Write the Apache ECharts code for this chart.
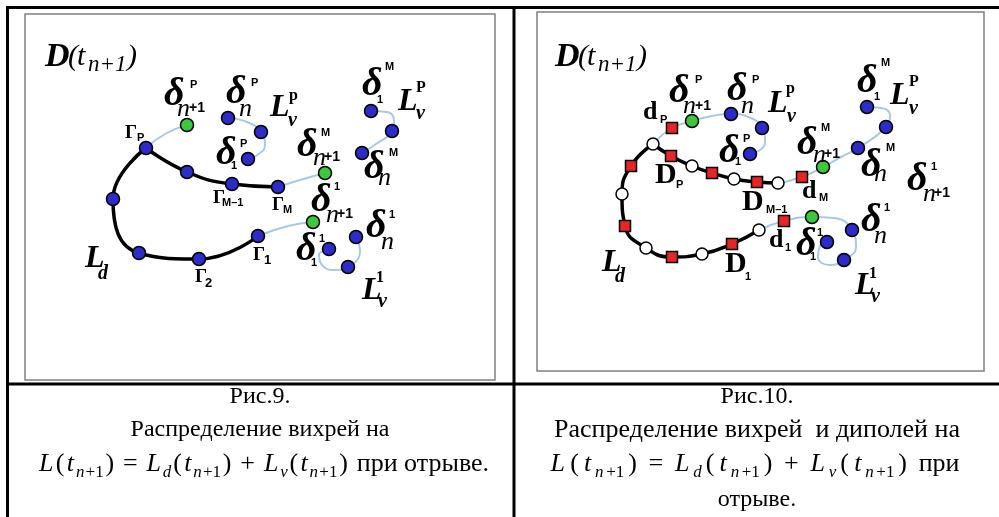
<!DOCTYPE html>
<html>
<head>
<meta charset="utf-8">
<script src="https://cdn.jsdelivr.net/npm/echarts@6/dist/echarts.min.js"></script>
<style>
  html, body { margin: 0; padding: 0; background: #fff; }
  #chart { width: 999px; height: 517px; }
</style>
</head>
<body>
<div id="chart"></div>
<script>
// ---- Рис.9: контур L_d и вихревые пелены L_v (координаты в пикселях картинки) ----
const ldUpper9 = [[146,148],[187,172],[232,184],[278,187]];
const ldLower9 = [[146,148],[113,199],[139,253],[199,259],[258,236]];
const lvLinks9 = [
  [[146,148],[165,134],[187,125]],
  [[278,187],[300,180],[325,173]],
  [[258,236],[288,226],[313,222]]
];
const lvLoops9 = [
  [[228,118],[247,122],[261,132],[265,145],[256,156],[248,159]],
  [[371,111],[387,112],[394,121],[392,131],[376,144],[362,153]],
  [[356,237],[360,251],[348,267],[334,270],[322,265],[319,255],[329,249]]
];
const blue9 = [[146,148],[187,172],[232,184],[278,187],[113,199],[139,253],[199,259],[258,236],
  [228,118],[261,132],[248,159],[371,111],[392,131],[362,153],[329,249],[348,267],[356,237]];
const green9 = [[187,125],[325,173],[313,222]];

// ---- Рис.10: вихри и диполи ----
const ldUpper10 = [[653,144],[671,156],[692,166],[712,173],[734,179],[757,182],[778,183]];
const ldLower10 = [[653,144],[631,166],[622,194],[625,226],[646,248],[672,257],[702,254],[732,244],[759,230]];
const lvLines10 = [
  [[653,144],[672,128],[692,121],[712,116],[731,114],[751,118],[762,128],[765,142],[757,152],[750,154]],
  [[778,183],[802,177],[823,167],[841,157],[858,148],[886,127],[890,115],[881,108],[867,107]],
  [[759,230],[784,221],[812,217],[834,218],[852,230],[856,247],[844,260],[830,265],[818,257],[820,246],[827,242]]
];
const white10 = [[653,144],[692,166],[734,179],[778,183],[622,194],[646,248],[702,254],[759,230]];
const red10 = [[672,128],[671,156],[712,173],[757,182],[802,177],[631,166],[625,226],[672,257],[732,244],[784,221]];
const green10 = [[692,121],[823,167],[812,217]];
const blue10 = [[731,114],[762,128],[750,154],[858,148],[886,127],[867,107],[852,230],[844,260],[827,242]];

// подписи: [x, y, текст, шрифт]
const labels9 = [
  [45,57,'D','D'],[68,57,'(','par'],[77,57,'t','par'],[88,65,'n+1','tsub'],[127,57,')','par'],
  [164,95,'δ','del'],[190,85,'P','sup'],[177,109,'n','nsub'],[189,108,'+1','pl'],
  [226,93,'δ','del'],[251,83,'P','sup'],[239,109,'n','nsub'],
  [270,108,'L','L'],[289,96,'p','lsup'],[288,121,'v','v'],
  [362,85,'δ','del'],[385,67,'M','sup'],[377,100,'1','sup'],
  [398,102,'L','L'],[416,88,'P','lsup'],[416,114,'v','v'],
  [125,133,'Γ','G'],[137,138,'P','gs'],
  [216,154,'δ','del'],[240,144,'P','sup'],[231,166,'1','sup'],
  [297,146,'δ','del'],[321,133,'M','sup'],[313,158,'n','nsub'],[324,157,'+1','pl'],
  [364,168,'δ','del'],[389,153,'M','sup'],[378,178,'n','nsub'],
  [213,198,'Γ','G'],[222,203,'M–1','gs'],
  [272,205,'Γ','G'],[283,210,'M','gs'],
  [311,201,'δ','del'],[334,187,'1','sup'],[326,215,'n','nsub'],[337,214,'+1','pl'],
  [366,227,'δ','del'],[389,215,'1','sup'],[381,242,'n','nsub'],
  [296,250,'δ','del'],[319,239,'1','sup'],[311,263,'1','sup'],
  [85,259,'L','L'],[98,274,'d','v'],
  [195,277,'Γ','G'],[205,283,'2','gs2'],
  [253,255,'Γ','G'],[264,260,'1','gs2'],
  [362,291,'L','L'],[376,278,'1','lsup'],[378,302,'v','v']
];
const labels10 = [
  [555,57,'D','D'],[578,57,'(','par'],[587,57,'t','par'],[598,65,'n+1','tsub'],[637,57,')','par'],
  [669,92,'δ','del'],[695,80,'P','sup'],[683,106,'n','nsub'],[695,106,'+1','pl'],
  [727,90,'δ','del'],[752,80,'P','sup'],[741,106,'n','nsub'],
  [768,104,'L','L'],[786,89,'p','lsup'],[787,117,'v','v'],
  [857,82,'δ','del'],[881,63,'M','sup'],[874,97,'1','sup'],
  [890,96,'L','L'],[909,82,'P','lsup'],[909,109,'v','v'],
  [643,112,'d','dr'],[660,120,'P','gs'],
  [719,152,'δ','del'],[743,139,'P','sup'],[735,162,'1','sup'],
  [655,175,'D','Dr'],[676,185,'P','gs'],
  [797,144,'δ','del'],[821,128,'M','sup'],[813,155,'n','nsub'],[824,154,'+1','pl'],
  [861,166,'δ','del'],[886,148,'M','sup'],[874,174,'n','nsub'],
  [907,180,'δ','del'],[931,167,'1','sup'],[923,194,'n','nsub'],[934,193,'+1','pl'],
  [802,191,'d','dr'],[819,198,'M','gs'],
  [742,202,'D','Dr'],[766,210,'M–1','gs'],
  [769,240,'d','dr'],[785,248,'1','gs'],
  [861,221,'δ','del'],[884,208,'1','sup'],[874,236,'n','nsub'],
  [796,245,'δ','del'],[817,233,'1','sup'],[810,257,'1','sup'],
  [602,263,'L','L'],[615,277,'d','v'],
  [725,264,'D','Dr'],[745,277,'1','gs'],
  [855,286,'L','L'],[869,274,'1','lsup'],[871,297,'v','v']
];

const SERIF = '"Liberation Serif", "DejaVu Serif", serif';
const SANS = '"Liberation Sans", Arial, sans-serif';
const FONTS = {
  D: 'italic bold 34px ' + SERIF,
  par: 'italic 30px ' + SERIF,
  tsub: 'italic 23px ' + SERIF,
  del: 'italic bold 40px ' + SERIF,
  L: 'italic bold 32px ' + SERIF,
  nsub: 'italic 26px ' + SERIF,
  pl: 'bold 14px ' + SANS,
  sup: 'bold 11px ' + SANS,
  lsup: 'bold 16px ' + SERIF,
  v: 'italic bold 20px ' + SERIF,
  G: 'bold 19px ' + SERIF,
  gs: 'bold 11px ' + SANS,
  gs2: 'bold 13px ' + SANS,
  Dr: 'bold 30px ' + SERIF,
  dr: 'bold 26px ' + SERIF
};

const BLUE = '#2c2cc8', GREEN = '#3cc83c', RED = '#e82424', LIGHT = '#a9c9e1';

let myChart = echarts.init(document.getElementById('chart'));

function lineSeries(data, color, width, z) {
  return {
    type: 'line', data: data, smooth: 0.5, symbol: 'none', silent: true, z: z,
    lineStyle: { color: color, width: width }
  };
}
function nodes(data, fill, shape, size) {
  return {
    type: 'scatter', data: data, symbol: shape, symbolSize: size, z: 10, silent: true,
    itemStyle: { color: fill, borderColor: '#000', borderWidth: 1.5, opacity: 1 }
  };
}

let series = [];
lvLinks9.concat(lvLoops9).forEach(function (d) { series.push(lineSeries(d, LIGHT, 2, 2)); });
lvLines10.forEach(function (d) { series.push(lineSeries(d, LIGHT, 2, 2)); });
[ldUpper9, ldLower9, ldUpper10, ldLower10].forEach(function (d) { series.push(lineSeries(d, '#000', 3.5, 3)); });
series.push(nodes(blue9, BLUE, 'circle', 13));
series.push(nodes(green9, GREEN, 'circle', 13));
series.push(nodes(blue10, BLUE, 'circle', 13));
series.push(nodes(green10, GREEN, 'circle', 13));
series.push(nodes(white10, '#fff', 'circle', 12));
series.push(nodes(red10, RED, 'rect', 11));

function txt(l) {
  return {
    type: 'text', x: l[0], y: l[1], z: 100, silent: true,
    style: { text: l[2], font: FONTS[l[3]], fill: '#000', align: 'left', verticalAlign: 'middle',
             textAlign: 'left', textVerticalAlign: 'middle' }
  };
}

// стили подписи; формула рисуется с небольшими отступами между знаками
function capStyles(pad) {
  return {
    f: { fontFamily: SERIF, fontSize: 26, lineHeight: 34, verticalAlign: 'middle', padding: [0, pad, 0, pad] },
    i: { fontFamily: SERIF, fontSize: 26, fontStyle: 'italic', lineHeight: 34, verticalAlign: 'middle', padding: [0, pad, 0, pad] },
    s: { fontFamily: SERIF, fontSize: 17, fontStyle: 'italic', lineHeight: 14, verticalAlign: 'bottom', padding: [0, pad / 2, 0, pad / 2] },
    u: { fontFamily: SERIF, fontSize: 17, lineHeight: 14, verticalAlign: 'bottom', padding: [0, pad / 2, 0, pad / 2] }
  };
}
const richL = Object.assign({ r: { fontFamily: SERIF, fontSize: 24, lineHeight: 34, verticalAlign: 'middle' } }, capStyles(1.2));
const richR = Object.assign({ r: { fontFamily: SERIF, fontSize: 24, lineHeight: 34, verticalAlign: 'middle' } }, capStyles(2.6));
const tn = '{f|(}{i|t}{s|n}{u|+1}{f|)}';
const formula = '{i|L}' + tn + '{f| = }{i|L}{s|d}' + tn + '{f| + }{i|L}{s|v}' + tn;

function caption(x, y, text, rich) {
  return {
    type: 'text', x: x, y: y, z: 100, silent: true,
    style: { text: text, rich: rich || richL, fill: '#000', align: 'center', verticalAlign: 'middle',
             textAlign: 'center', textVerticalAlign: 'middle', font: '24px ' + SERIF }
  };
}
function hline(x1, x2, y, w, c) {
  return { type: 'line', shape: { x1: x1, y1: y, x2: x2, y2: y }, style: { stroke: c, lineWidth: w }, z: 50, silent: true };
}
function vline(x, y1, y2, w, c) {
  return { type: 'line', shape: { x1: x, y1: y1, x2: x, y2: y2 }, style: { stroke: c, lineWidth: w }, z: 50, silent: true };
}

let graphic = [
  { type: 'rect', shape: { x: 25, y: 14, width: 470, height: 366 }, style: { fill: 'none', stroke: '#808080', lineWidth: 1.5 }, z: 50 },
  { type: 'rect', shape: { x: 537, y: 12, width: 447, height: 359 }, style: { fill: 'none', stroke: '#808080', lineWidth: 1.5 }, z: 50 },
  hline(6, 999, 7.5, 3, '#000'),
  hline(6, 999, 384, 3, '#000'),
  vline(7.5, 6, 517, 3, '#000'),
  vline(514, 6, 517, 3, '#000'),
  caption(260, 397, '{r|Рис.9.}'),
  caption(260, 430, '{r|Распределение вихрей на}'),
  caption(264, 464, formula + '{f| при отрыве.}'),
  caption(757, 397, '{r|Рис.10.}'),
  caption(757, 430, '{f|Распределение вихрей  и диполей на}'),
  caption(755, 464, formula + '{f| при}', richR),
  caption(757, 500, '{r|отрыве.}')
];
labels9.concat(labels10).forEach(function (l) { graphic.push(txt(l)); });

let option = {
  animation: false,
  backgroundColor: '#fff',
  grid: { left: 0, right: 0, top: 0, bottom: 0 },
  xAxis: { type: 'value', min: 0, max: 999, show: false },
  yAxis: { type: 'value', min: 0, max: 517, inverse: true, show: false },
  series: series,
  graphic: graphic
};

myChart.setOption(option);
</script>
</body>
</html>
